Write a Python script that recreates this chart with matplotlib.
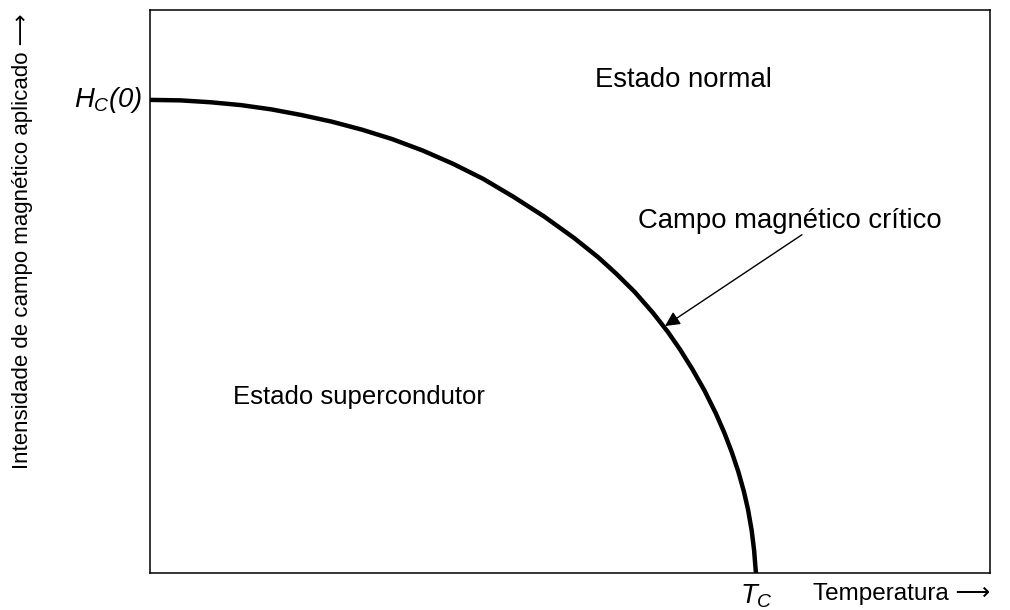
import matplotlib.pyplot as plt

plt.rcParams['font.family'] = ['Liberation Sans', 'DejaVu Sans']
plt.rcParams['mathtext.fontset'] = 'custom'
plt.rcParams['mathtext.it'] = 'Liberation Sans:italic'
plt.rcParams['mathtext.rm'] = 'Liberation Sans:italic'

# critical field curve, T/Tc against H/Hc(0)
temp = [0.0, 0.05, 0.10, 0.15, 0.20, 0.25, 0.30, 0.35, 0.40, 0.45,
        0.50, 0.55, 0.60, 0.65, 0.70, 0.74, 0.77, 0.80, 0.83, 0.855,
        0.875, 0.895, 0.915, 0.934, 0.948, 0.960, 0.971, 0.980, 0.987,
        0.993, 0.997, 1.0]
field = [1.0, 0.999, 0.995, 0.989, 0.980, 0.968, 0.954, 0.937, 0.917, 0.893,
         0.865, 0.833, 0.795, 0.754, 0.708, 0.667, 0.632, 0.594, 0.550, 0.509,
         0.472, 0.431, 0.386, 0.337, 0.296, 0.256, 0.214, 0.173, 0.134,
         0.090, 0.048, 0.0]

arrow_tip = (0.850, 0.522)
arrow_tail = (1.076, 0.715)

fig = plt.figure(figsize=(10.1, 6.1), dpi=100)
ax = fig.add_axes([0.1485, 0.0607, 0.8315, 0.9229])

ax.plot(temp, field, color='black', lw=3.2, solid_capstyle='butt',
        solid_joinstyle='round')
ax.set_xlim(0, 1.386)
ax.set_ylim(0, 1.19)
ax.set_xticks([])
ax.set_yticks([])
for s in ax.spines.values():
    s.set_linewidth(1.1)

fs = 19.8
ax.annotate('', xy=arrow_tip, xytext=arrow_tail,
            arrowprops=dict(arrowstyle='-|>', color='black', lw=1.0,
                            mutation_scale=22, shrinkA=0, shrinkB=0))
ax.text(1.056, 0.729, 'Campo magnético crítico', fontsize=fs,
        ha='center', va='baseline')
ax.text(0.881, 1.042, 'Estado normal', fontsize=fs, ha='center', va='center')
ax.text(0.345, 0.372, 'Estado supercondutor', fontsize=18.5,
        ha='center', va='center')

ax.text(-0.012, 1.0, r'$H_C(0)$', fontsize=fs, ha='right', va='center')
ax.text(1.0, -0.05, r'$T_C$', fontsize=fs, ha='center', va='center')
ax.text(1.386, -0.045, 'Temperatura ⟶', fontsize=17.5, ha='right',
        va='center')

fig.text(0.022, 0.605, 'Intensidade de campo magnético aplicado ⟶',
         fontsize=16, rotation=90, ha='center', va='center')

fig.savefig('out.png', dpi=100)
